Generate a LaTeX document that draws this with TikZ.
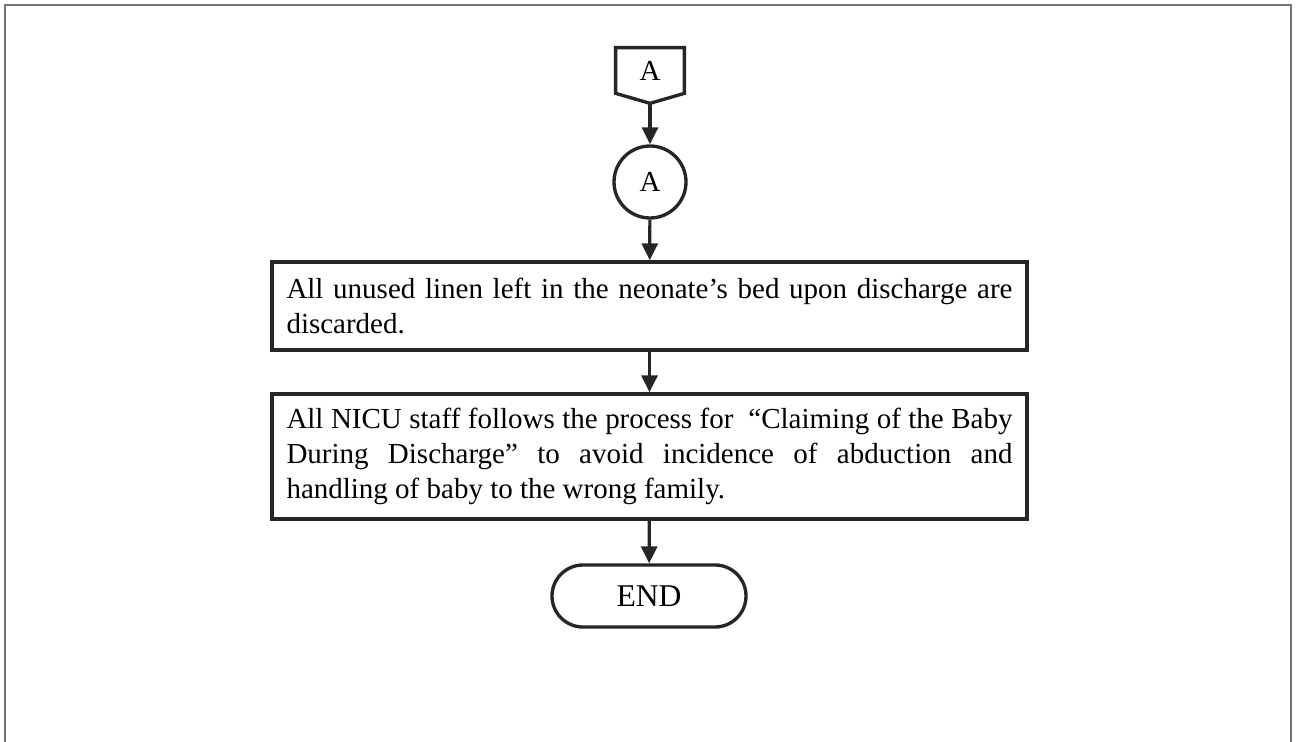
\documentclass[tikz,border=0pt]{standalone}
\usepackage{fontspec}
\setmainfont{Liberation Serif}
\usepackage{tikz}
\usetikzlibrary{arrows.meta,calc,positioning}

\begin{document}
\begin{tikzpicture}[
		every node/.style = {font=\fontsize{16.5}{19.8}\selectfont},
		frameline/.style = {draw=black!55, line width=0.04cm},
		shapeline/.style = {draw=black!85, line width=1.9pt},
		flowarrow/.style = {draw=black!85, line width=1.8pt, -{Triangle[length=0.34cm,width=0.32cm]}},
		stepbox/.style = {shapeline, rectangle, text width=14.52cm, inner xsep=0.29cm, align=justify},
		connector/.style = {shapeline, circle, minimum size=1.44cm, inner sep=0pt},
		terminal/.style = {shapeline, rectangle, rounded corners=0.62cm, minimum width=3.88cm, minimum height=1.24cm}
	]
		\useasboundingbox (0,0) rectangle (25.92,-14.84);
		\fill[white] (0,0) rectangle (25.92,-14.84);
		% page frame
		\draw[frameline] (0.1,-14.9) -- (0.1,-0.1) -- (25.82,-0.1) -- (25.82,-14.9);

		% off-page connector
		\node[minimum width=1.36cm, minimum height=0.9cm, inner sep=0pt] (offA) at (13,-1.41) {A};
		\coordinate (offtip) at ($(offA.south)+(0,-0.2)$);
		\draw[shapeline] (offA.south west) -- (offA.north west) -- (offA.north east) -- (offA.south east) -- (offtip) -- cycle;

		\node[connector] (circA) at (13,-3.64) {A};

		\node[stepbox, minimum height=1.76cm] (linen) at (12.99,-6.12)
			{All unused linen left in the neonate’s bed upon discharge are\linebreak discarded.};

		\node[stepbox, minimum height=2.5cm] (claim) at (12.99,-9.13)
			{All NICU staff follows the process for~ “Claiming of the Baby\linebreak During Discharge” to avoid incidence of abduction and\linebreak handling of baby to the wrong family.};

		\node[terminal, font=\fontsize{18}{20}\selectfont] (finish) at (12.98,-11.92) {END};

		\draw[flowarrow] (offtip) -- (circA);
		\draw[flowarrow] (circA) -- (linen);
		\draw[flowarrow] (linen) -- (claim);
		\draw[flowarrow] (claim) -- (finish);
\end{tikzpicture}
\end{document}
